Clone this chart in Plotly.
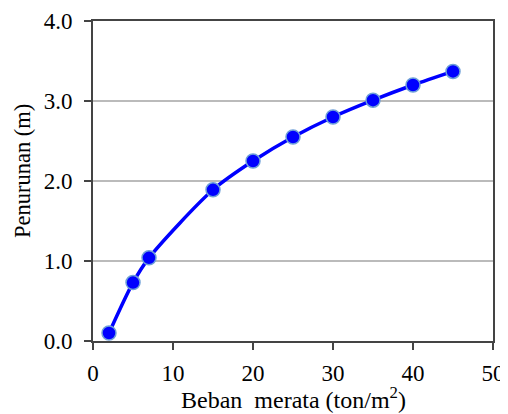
import plotly.graph_objects as go

beban = [2, 5, 7, 15, 20, 25, 30, 35, 40, 45]
penurunan = [0.10, 0.73, 1.04, 1.89, 2.25, 2.55, 2.80, 3.01, 3.20, 3.37]

x_ticks = [0, 10, 20, 30, 40, 50]
y_ticks = [0.0, 1.0, 2.0, 3.0, 4.0]
y_labels = ["0.0", "1.0", "2.0", "3.0", "4.0"]

x_title = "Beban  merata (ton/m<sup>2</sup>)"
y_title = "Penurunan (m)"

font = "Liberation Serif, Times New Roman, serif"

fig = go.Figure()
fig.add_trace(go.Scatter(
    x=beban, y=penurunan, mode="lines+markers",
    line=dict(color="#0000FF", width=3.5, shape="spline", smoothing=0.8),
    marker=dict(color="#0000FF", size=14, line=dict(color="#6FA0D8", width=1.5)),
    showlegend=False,
))

# the page body adds an 8px margin, so the figure is sized to fit the window
fig.update_layout(
    width=500, height=406,
    margin=dict(l=85, r=15, t=13, b=73),
    paper_bgcolor="white", plot_bgcolor="white",
    font=dict(family=font, size=23, color="black"),
)
fig.update_xaxes(
    range=[0, 50], tickvals=x_ticks, ticks="outside", ticklen=7, tickwidth=2,
    tickcolor="#444", showline=True, linecolor="#444", linewidth=2, mirror=True,
    showgrid=False, zeroline=False, tickfont=dict(size=23), automargin=False,
    ticklabelstandoff=3,
)
fig.update_yaxes(
    range=[0, 4], tickvals=y_ticks, ticktext=y_labels, ticks="outside", ticklen=7,
    tickwidth=2, tickcolor="#444", showline=True, linecolor="#444", linewidth=2,
    mirror=True, showgrid=True, gridcolor="#BBBBBB", gridwidth=1.5, zeroline=False,
    tickfont=dict(size=23), automargin=False, ticklabelstandoff=7,
)

fig.add_annotation(
    text=x_title, xref="paper", yref="paper", x=0.5, y=0,
    xanchor="center", yanchor="middle", yshift=-57, showarrow=False,
    font=dict(size=24),
)
fig.add_annotation(
    text=y_title, xref="paper", yref="paper", x=0, y=0.531,
    xanchor="center", yanchor="middle", xshift=-71, textangle=-90,
    showarrow=False, font=dict(size=22.5),
)

fig.write_html("out.html")
